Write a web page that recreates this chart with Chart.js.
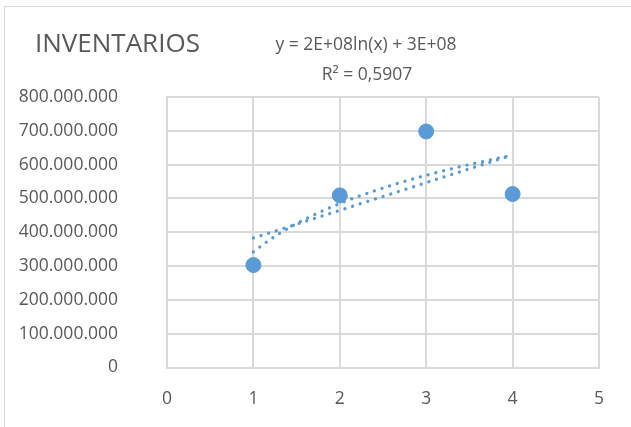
<!DOCTYPE html>
<html>
<head>
<meta charset="utf-8">
<script src="https://cdn.jsdelivr.net/npm/chart.js@4/dist/chart.umd.min.js"></script>
<style>
  html, body { margin: 0; padding: 0; background: #fff; overflow: hidden; }
  #marco { position: absolute; left: 4px; top: 6px; width: 700px; height: 500px; border: 1px solid #d9d9d9; }
  #inventarios { position: absolute; left: 0; top: 0; }
</style>
</head>
<body>
<div id="marco"></div>
<canvas id="inventarios" width="631" height="427"></canvas>
<script>
// datos
const periodos = [1, 2, 3, 4];
const inventarios = [303000000, 509000000, 698000000, 513000000];
const titulo = 'INVENTARIOS';
const ecuacion = 'y = 2E+08ln(x) + 3E+08';
const r2Texto = 'R² = 0,5907';
const yMax = 800000000;
const yPaso = 100000000;
const xMax = 5;

const azul = '#5B9BD5';
const gris = '#595959';
const rejilla = '#d9d9d9';
const fuente = "'Open Sans', sans-serif";

// lineas de tendencia (minimos cuadrados sobre los datos)
function ajuste(xs, ys) {
  var n = xs.length, mx = 0, my = 0;
  for (var i = 0; i < n; i++) { mx += xs[i]; my += ys[i]; }
  mx /= n; my /= n;
  var sxy = 0, sxx = 0;
  for (var j = 0; j < n; j++) { sxy += (xs[j] - mx) * (ys[j] - my); sxx += (xs[j] - mx) * (xs[j] - mx); }
  var a = sxy / sxx;
  return { a: a, b: my - a * mx };
}
var lin = ajuste(periodos, inventarios);
var lnx = periodos.map(function(x) { return Math.log(x); });
var lg = ajuste(lnx, inventarios);

var x0 = periodos[0], x1 = periodos[periodos.length - 1];
var tendLineal = [x0, x1].map(function(x) { return { x: x, y: lin.a * x + lin.b }; });
var tendLog = [];
for (var k = 0; k <= 60; k++) {
  var xv = x0 + (x1 - x0) * k / 60;
  tendLog.push({ x: xv, y: lg.a * Math.log(xv) + lg.b });
}

function miles(v) {
  return String(Math.round(v)).replace(/\B(?=(\d{3})+(?!\d))/g, '.');
}

var textos = {
  id: 'textos',
  afterDraw: function(chart) {
    var ctx = chart.ctx;
    ctx.save();
    ctx.fillStyle = gris;
    ctx.textBaseline = 'alphabetic';
    ctx.textAlign = 'left';
    ctx.font = '26px ' + fuente;
    ctx.fillText(titulo, 35, 52);
    ctx.textAlign = 'center';
    ctx.font = '17.5px ' + fuente;
    ctx.fillText(ecuacion, 366, 50);
    ctx.fillText(r2Texto, 367, 80);
    ctx.restore();
  }
};

var ctx = document.getElementById('inventarios').getContext('2d');
var grafico = new Chart(ctx, {
  type: 'scatter',
  data: {
    datasets: [
      {
        label: 'Inventarios',
        data: periodos.map(function(x, i) { return { x: x, y: inventarios[i] }; }),
        backgroundColor: azul,
        borderColor: azul,
        pointRadius: 7.5,
        pointHoverRadius: 7.5,
        order: 0
      },
      {
        label: 'Lineal',
        type: 'line',
        data: tendLineal,
        borderColor: azul,
        borderWidth: 3.3,
        borderDash: [0.01, 8],
        borderCapStyle: 'round',
        pointRadius: 0,
        fill: false,
        order: 1
      },
      {
        label: 'Logaritmica',
        type: 'line',
        data: tendLog,
        borderColor: azul,
        borderWidth: 3.3,
        borderDash: [0.01, 8],
        borderCapStyle: 'round',
        pointRadius: 0,
        tension: 0,
        fill: false,
        order: 2
      }
    ]
  },
  options: {
    responsive: false,
    animation: false,
    layout: { padding: { left: 17, top: 97, right: 32, bottom: 13 } },
    plugins: {
      legend: { display: false },
      tooltip: { enabled: false },
      title: { display: false }
    },
    scales: {
      x: {
        type: 'linear',
        min: 0,
        max: xMax,
        ticks: { stepSize: 1, color: gris, font: { family: fuente, size: 17.5 }, padding: 21 },
        grid: { color: rejilla, lineWidth: 2, drawTicks: false },
        border: { color: rejilla, width: 2 },
        afterFit: function(s) { s.height = 45; }
      },
      y: {
        min: 0,
        max: yMax,
        ticks: {
          stepSize: yPaso,
          color: gris,
          font: { family: fuente, size: 17.5 },
          padding: 49,
          callback: function(v) { return miles(v); }
        },
        grid: { color: rejilla, lineWidth: 2, drawTicks: false },
        border: { color: rejilla, width: 2 },
        afterFit: function(s) { s.width = 150; }
      }
    }
  },
  plugins: [textos]
});
</script>
</body>
</html>
